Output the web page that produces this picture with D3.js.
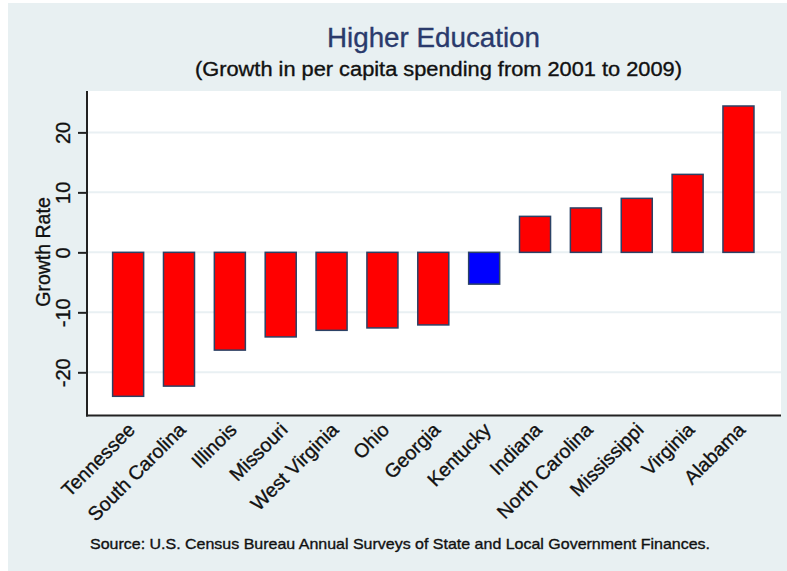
<!DOCTYPE html>
<html>
<head>
<meta charset="utf-8">
<script src="https://cdn.jsdelivr.net/npm/d3@7"></script>
<style>
  body { margin: 0; background: #fff; }
  text { font-family: "Liberation Sans", Arial, sans-serif; stroke-width: 0.35px; }
</style>
</head>
<body>
<svg width="787" height="571"></svg>
<script>
var states = ["Tennessee", "South Carolina", "Illinois", "Missouri", "West Virginia", "Ohio",
              "Georgia", "Kentucky", "Indiana", "North Carolina", "Mississippi", "Virginia", "Alabama"];
var growth = [-24.0, -22.3, -16.3, -14.1, -13.0, -12.6, -12.1, -5.3, 6.0, 7.4, 9.0, 13.0, 24.4];
var highlight = ["Kentucky"];
var yTicks = [-20, -10, 0, 10, 20];

var svg = d3.select("svg"),
    plotLeft = 87, plotRight = 781, plotTop = 91, plotBottom = 415.5;

// page background
svg.append("rect").attr("width", 787).attr("height", 571).attr("fill", "#fff");
svg.append("rect")
    .attr("x", 8).attr("y", 3)
    .attr("width", 779).attr("height", 568)
    .attr("fill", "#e8f0f2");

// plot region
svg.append("rect")
    .attr("x", plotLeft).attr("y", plotTop)
    .attr("width", plotRight - plotLeft).attr("height", plotBottom - plotTop)
    .attr("fill", "#fff");

var x = d3.scaleBand()
    .domain(states)
    .range([102.7, 763.9])
    .paddingInner(0.39)
    .paddingOuter(0.195);

var y = d3.scaleLinear()
    .domain([-27.2, 26.9])
    .range([plotBottom, plotTop]);

// grid lines
svg.append("g")
  .selectAll("line")
  .data(yTicks)
  .enter().append("line")
    .attr("x1", plotLeft).attr("x2", plotRight)
    .attr("y1", function(d) { return y(d); })
    .attr("y2", function(d) { return y(d); })
    .attr("stroke", "#e9f0f3")
    .attr("stroke-width", 2);

// bars
svg.append("g")
  .selectAll("rect")
  .data(states)
  .enter().append("rect")
    .attr("x", function(d) { return x(d); })
    .attr("width", x.bandwidth())
    .attr("y", function(d, i) { return y(Math.max(0, growth[i])); })
    .attr("height", function(d, i) { return Math.abs(y(growth[i]) - y(0)); })
    .attr("fill", function(d) { return highlight.indexOf(d) >= 0 ? "#0000ff" : "#ff0000"; })
    .attr("stroke", "#2b4266")
    .attr("stroke-width", 1.5);

// y axis (plain hyphen minus like the original)
var yAxis = svg.append("g")
    .attr("transform", "translate(" + plotLeft + ",0)")
    .call(d3.axisLeft(y).tickValues(yTicks).tickSize(9).tickSizeOuter(0)
      .tickFormat(function(d) { return String(d); }));
yAxis.select(".domain").remove();
yAxis.selectAll(".tick line").attr("stroke", "#222").attr("stroke-width", 2);
yAxis.selectAll(".tick text")
    .attr("x", null).attr("dy", null)
    .attr("transform", "translate(-17,0) rotate(-90)")
    .attr("text-anchor", "middle")
    .attr("fill", "#111").attr("stroke", "#111")
    .style("font-size", "20px");

svg.append("line")
    .attr("x1", plotLeft).attr("x2", plotLeft)
    .attr("y1", plotTop).attr("y2", plotBottom + 1)
    .attr("stroke", "#222").attr("stroke-width", 2);

// x axis
svg.append("line")
    .attr("x1", plotLeft - 1).attr("x2", plotRight)
    .attr("y1", plotBottom).attr("y2", plotBottom)
    .attr("stroke", "#222").attr("stroke-width", 2);

svg.append("g")
  .selectAll("text")
  .data(states)
  .enter().append("text")
    .attr("transform", function(d) {
      return "translate(" + (x(d) + x.bandwidth() / 2 + 8) + ",431) rotate(-45)";
    })
    .attr("text-anchor", "end")
    .attr("fill", "#111").attr("stroke", "#111")
    .style("font-size", "19.5px")
    .text(function(d) { return d; });

// axis title
svg.append("text")
    .attr("transform", "translate(50,252) rotate(-90)")
    .attr("text-anchor", "middle")
    .attr("fill", "#111").attr("stroke", "#111")
    .style("font-size", "19.5px")
    .text("Growth Rate");

// titles
svg.append("text")
    .attr("x", 433.5).attr("y", 47)
    .attr("text-anchor", "middle")
    .attr("fill", "#2a3a6c").attr("stroke", "#2a3a6c")
    .attr("textLength", 213).attr("lengthAdjust", "spacingAndGlyphs")
    .style("font-size", "27.5px")
    .text("Higher Education");

svg.append("text")
    .attr("x", 438.5).attr("y", 76)
    .attr("text-anchor", "middle")
    .attr("fill", "#111").attr("stroke", "#111")
    .attr("textLength", 487).attr("lengthAdjust", "spacingAndGlyphs")
    .style("font-size", "19.5px")
    .text("(Growth in per capita spending from 2001 to 2009)");

svg.append("text")
    .attr("x", 90).attr("y", 549)
    .attr("fill", "#111").attr("stroke", "#111")
    .attr("textLength", 620).attr("lengthAdjust", "spacingAndGlyphs")
    .style("font-size", "15px")
    .text("Source: U.S. Census Bureau Annual Surveys of State and Local Government Finances.");
</script>
</body>
</html>
